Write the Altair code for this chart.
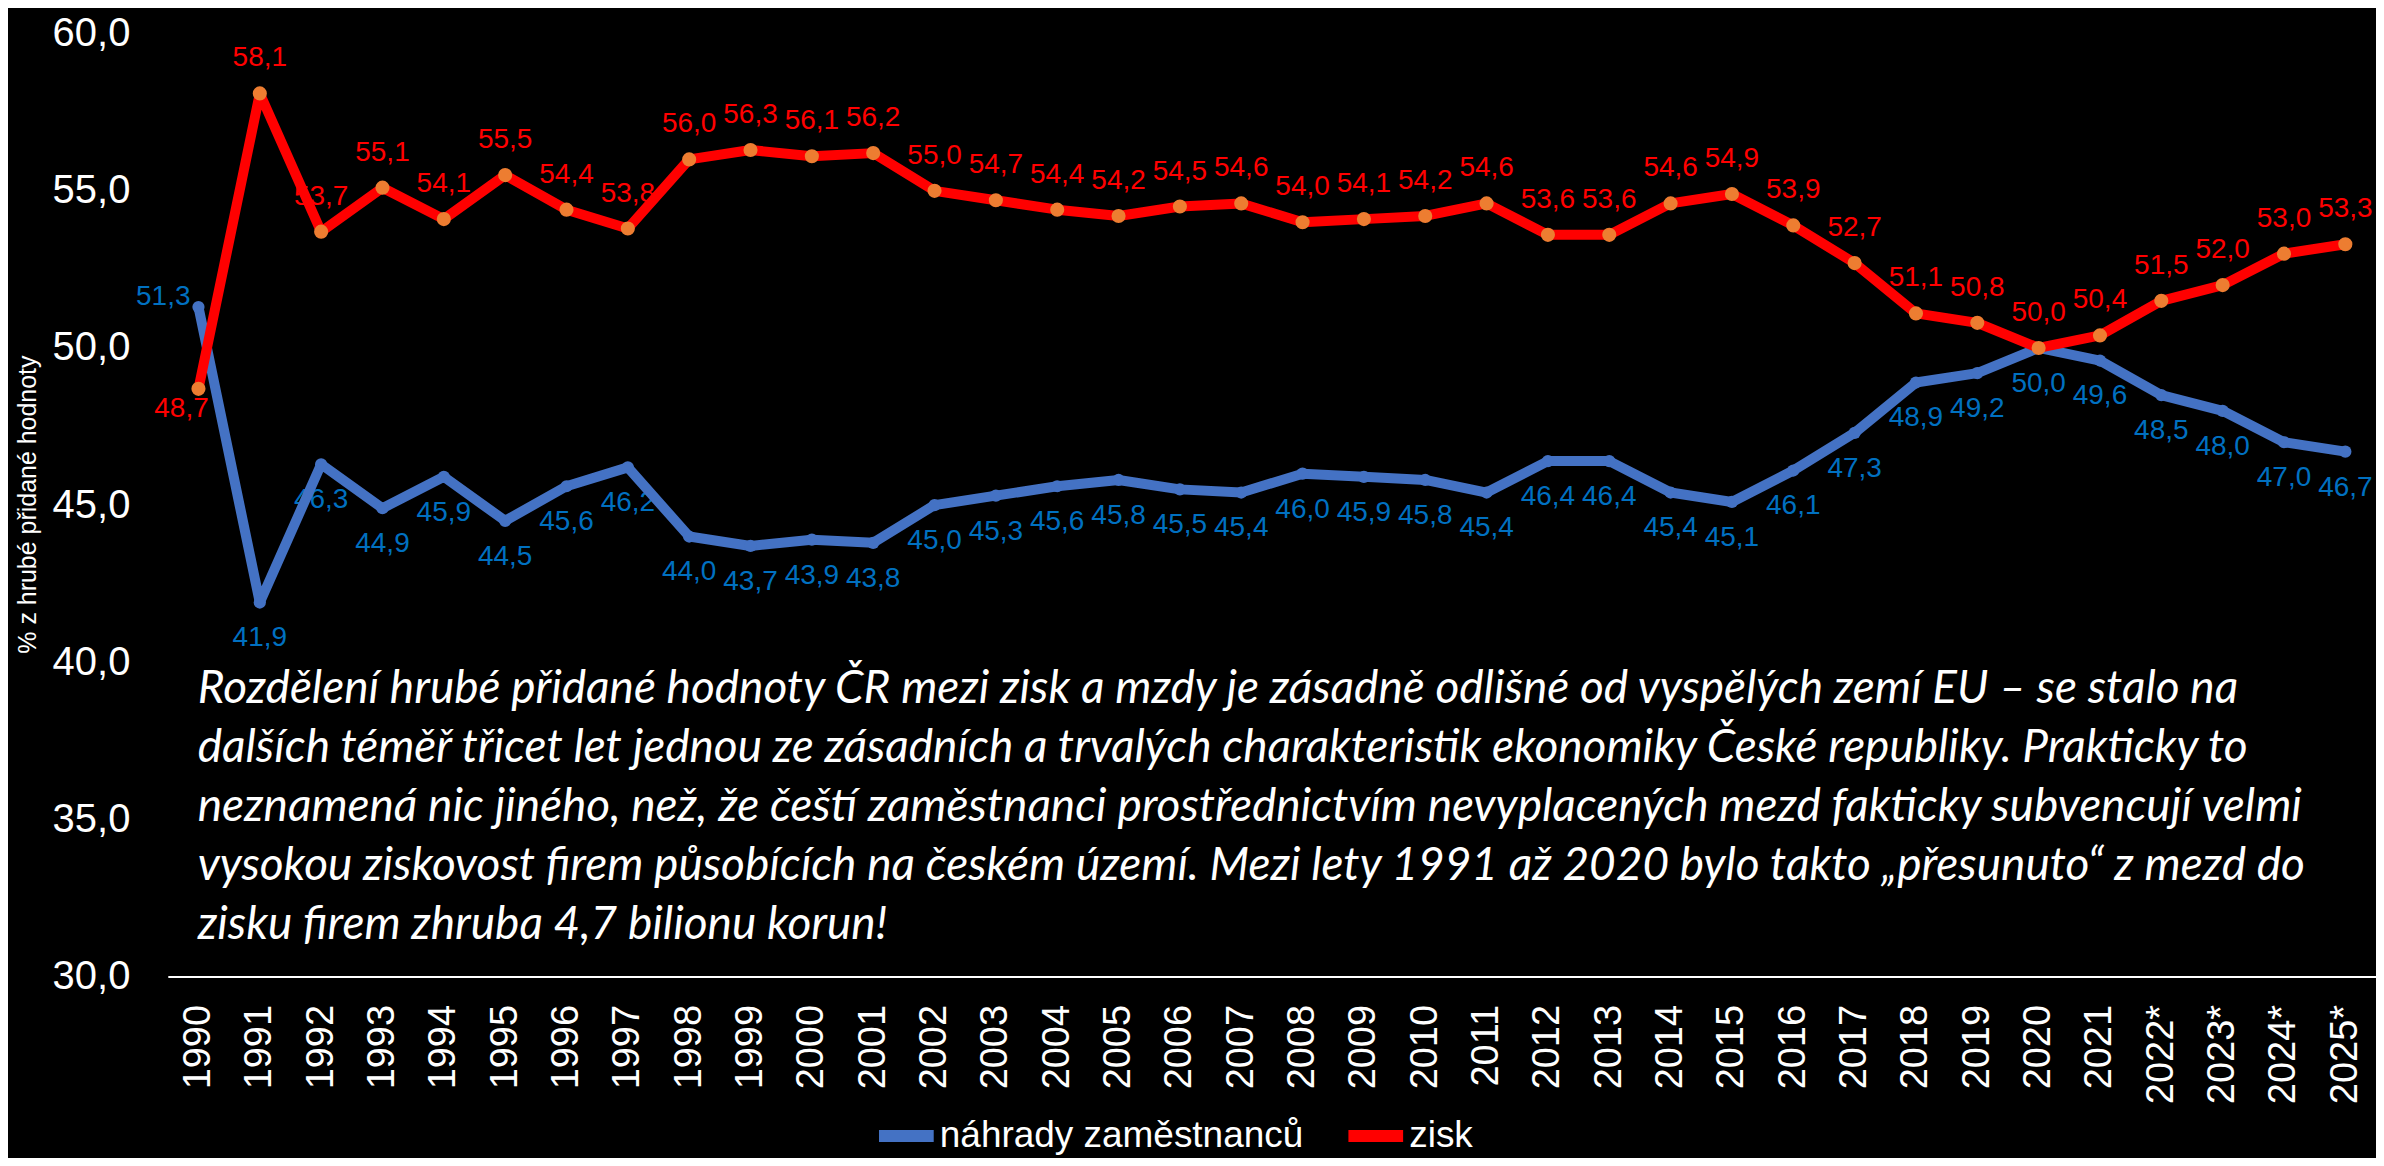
import altair as alt
import pandas as pd

years = ["1990", "1991", "1992", "1993", "1994", "1995", "1996", "1997", "1998", "1999",
         "2000", "2001", "2002", "2003", "2004", "2005", "2006", "2007", "2008", "2009",
         "2010", "2011", "2012", "2013", "2014", "2015", "2016", "2017", "2018", "2019",
         "2020", "2021", "2022*", "2023*", "2024*", "2025*"]

nahrady = [51.3, 41.9, 46.3, 44.9, 45.9, 44.5, 45.6, 46.2, 44.0, 43.7,
           43.9, 43.8, 45.0, 45.3, 45.6, 45.8, 45.5, 45.4, 46.0, 45.9,
           45.8, 45.4, 46.4, 46.4, 45.4, 45.1, 46.1, 47.3, 48.9, 49.2,
           50.0, 49.6, 48.5, 48.0, 47.0, 46.7]

zisk = [48.7, 58.1, 53.7, 55.1, 54.1, 55.5, 54.4, 53.8, 56.0, 56.3,
        56.1, 56.2, 55.0, 54.7, 54.4, 54.2, 54.5, 54.6, 54.0, 54.1,
        54.2, 54.6, 53.6, 53.6, 54.6, 54.9, 53.9, 52.7, 51.1, 50.8,
        50.0, 50.4, 51.5, 52.0, 53.0, 53.3]

series_names = ["náhrady zaměstnanců", "zisk"]
line_colors = ["#4472C4", "#FF0000"]

y_title = "% z hrubé přidané hodnoty"
note_lines = [
    "Rozdělení hrubé přidané hodnoty ČR mezi zisk a mzdy je zásadně odlišné od vyspělých zemí EU – se stalo na",
    "dalších téměř třicet let jednou ze zásadních a trvalých charakteristik ekonomiky České republiky. Prakticky to",
    "neznamená nic jiného, než, že čeští zaměstnanci prostřednictvím nevyplacených mezd fakticky subvencují velmi",
    "vysokou ziskovost firem působících na českém území. Mezi lety 1991 až 2020 bylo takto „přesunuto“ z mezd do",
    "zisku firem zhruba 4,7 bilionu korun!",
]

df = pd.DataFrame({
    "rok": years * 2,
    "serie": [series_names[0]] * len(years) + [series_names[1]] * len(years),
    "hodnota": nahrady + zisk,
})
df["label"] = df["hodnota"].map(lambda v: f"{v:.1f}".replace(".", ","))

FONT = "Liberation Sans"

x_enc = alt.X(
    "rok:O", sort=years, title=None,
    axis=alt.Axis(labelAngle=-90, labelColor="white", labelFontSize=38, labelFont=FONT,
                  labelPadding=28, ticks=False, domainColor="white", domainWidth=2,
                  grid=False, labelOverlap=False),
)
y_enc = alt.Y(
    "hodnota:Q", title=y_title,
    scale=alt.Scale(domain=[30, 60], nice=False, zero=False),
    axis=alt.Axis(values=[30, 35, 40, 45, 50, 55, 60], grid=False, domain=False, ticks=False,
                  labelColor="white", labelFontSize=40, labelFont=FONT, labelPadding=38,
                  labelExpr="replace(format(datum.value, '.1f'), '.', ',')",
                  titleColor="white", titleFont=FONT, titleFontSize=25, titleFontWeight="normal",
                  titleX=-140, titleY=471, titleAngle=-90, titleAlign="center",
                  titleBaseline="middle"),
)

base = alt.Chart(df).encode(x=x_enc, y=y_enc)

is_blue = alt.datum.serie == series_names[0]
is_red = alt.datum.serie == series_names[1]
first = alt.datum.rok == years[0]

lab_blue = base.transform_filter(is_blue & ~first).mark_text(
    dy=36, color="#0070C0", fontSize=28, font=FONT, baseline="middle").encode(text="label:N")
lab_red = base.transform_filter(is_red & ~first).mark_text(
    dy=-35, color="#FF0000", fontSize=28, font=FONT, baseline="middle").encode(text="label:N")
lab_blue0 = base.transform_filter(is_blue & first).mark_text(
    dx=-8, dy=-10, align="right", color="#0070C0", fontSize=28, font=FONT,
    baseline="middle").encode(text="label:N")
lab_red0 = base.transform_filter(is_red & first).mark_text(
    dx=-17, dy=20, color="#FF0000", fontSize=28, font=FONT,
    baseline="middle").encode(text="label:N")

lines = base.mark_line(strokeWidth=10, strokeCap="round", strokeJoin="round").encode(
    color=alt.Color("serie:N", scale=alt.Scale(domain=series_names, range=line_colors),
                    legend=alt.Legend(title=None, orient="none", direction="horizontal",
                                      legendX=706, legendY=1070, symbolType="stroke",
                                      symbolStrokeWidth=12, symbolSize=3000,
                                      labelColor="white", labelFont=FONT, labelFontSize=37,
                                      labelLimit=0, labelOffset=0, columnPadding=20,
                                      padding=0))
)

pts_blue = base.transform_filter(is_blue).mark_circle(size=150, color="#4472C4", opacity=1)
pts_red = base.transform_filter(is_red).mark_circle(size=200, color="#ED7D31", opacity=1)

note = alt.Chart(pd.DataFrame({"k": [0]})).mark_text(
    align="left", baseline="middle", font="Lato", fontStyle="italic", fontSize=46,
    lineHeight=59, color="white",
).encode(x=alt.value(30), y=alt.value(656), text=alt.value(note_lines))

chart = alt.layer(lab_blue, lab_red, lab_blue0, lab_red0, lines, pts_blue, pts_red, note).properties(
    width=2211, height=944,
    padding={"left": 160, "top": 25, "right": 0, "bottom": 181},
    autosize=alt.AutoSizeParams(type="none"),
    background="black",
).configure_view(stroke=None)

chart.save("out.html", embed_options={"renderer": "svg", "actions": False})
